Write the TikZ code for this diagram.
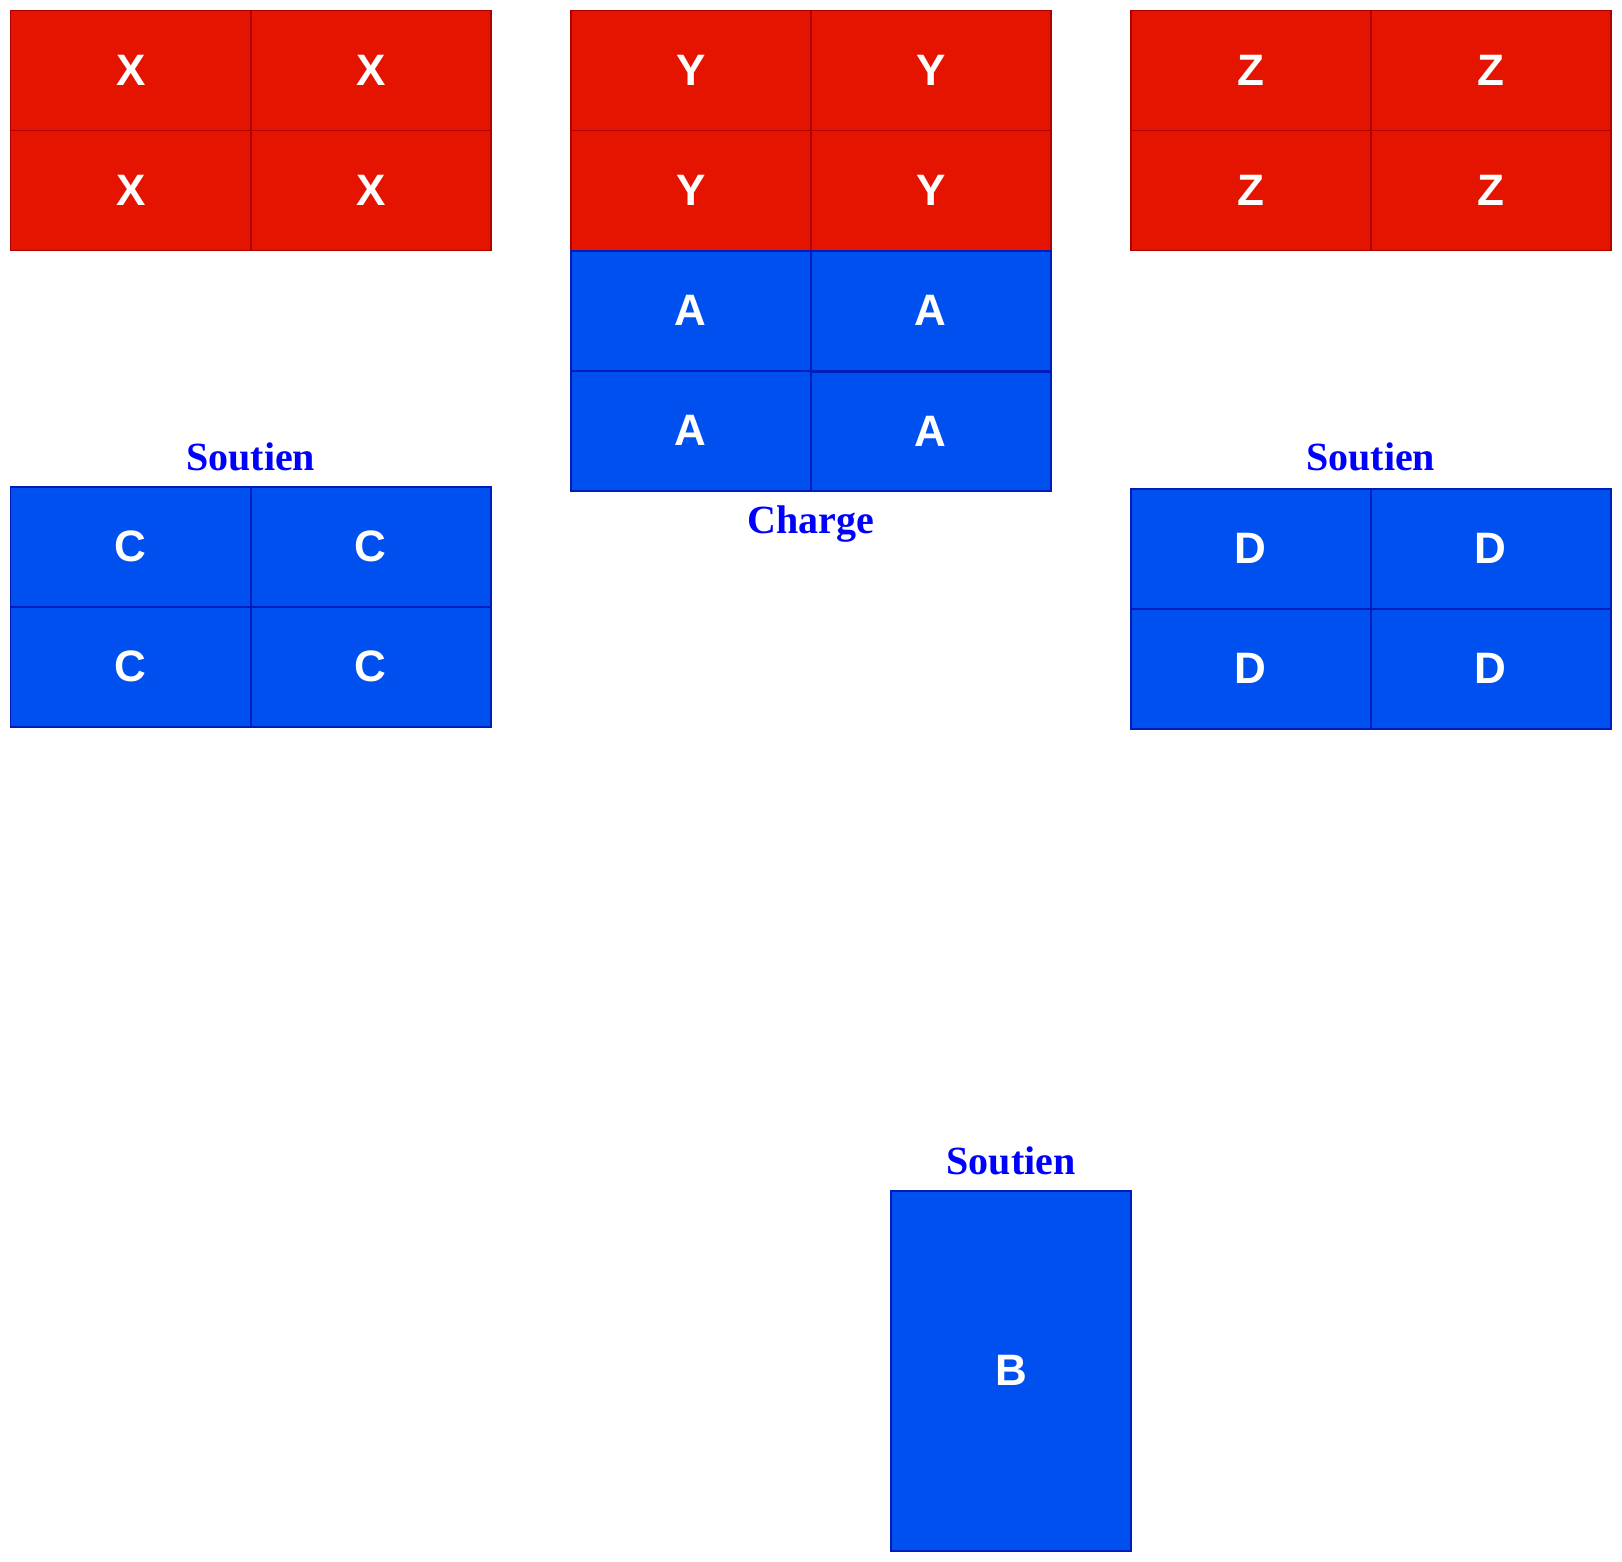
\documentclass[tikz,border=0pt]{standalone}
\usepackage{fontspec}
\setmainfont{Liberation Serif}
\newfontfamily\cellfont{Liberation Sans}
\definecolor{redfill}{HTML}{E51400}
\definecolor{redline}{HTML}{B20000}
\definecolor{bluefill}{HTML}{0050EF}
\definecolor{blueline}{HTML}{001DBC}
\definecolor{labelblue}{HTML}{0000FF}
\tikzset{
  cellbase/.style={rectangle, inner sep=0pt, outer sep=0pt, line width=1.5bp,
    minimum width=240bp, minimum height=120bp, text=white,
    font=\cellfont\bfseries\fontsize{44bp}{50bp}\selectfont},
  redcell/.style={cellbase, fill=redfill, draw=redline},
  bluecell/.style={cellbase, fill=bluefill, draw=blueline},
  grouplabel/.style={anchor=base, inner sep=0pt, text=labelblue,
    font=\bfseries\fontsize{40bp}{48bp}\selectfont}
}
\begin{document}
\begin{tikzpicture}[x=1bp,y=-1bp]
\useasboundingbox (0,0) rectangle (1622,1562);
% X group
\node[redcell] (x11) at (130.75,70.5) {X};
\node[redcell] (x12) at (370.75,70.5) {X};
\node[redcell] (x21) at (130.75,190.5) {X};
\node[redcell] (x22) at (370.75,190.5) {X};
% Y group
\node[redcell] (y11) at (690.75,70.5) {Y};
\node[redcell] (y12) at (930.75,70.5) {Y};
\node[redcell] (y21) at (690.75,190.5) {Y};
\node[redcell] (y22) at (930.75,190.5) {Y};
% A group
\node[bluecell] (a11) at (690.75,310.75) {A};
\node[bluecell] (a12) at (930.75,310.75) {A};
\node[bluecell] (a21) at (690.75,430.75) {A};
\node[bluecell, minimum height=118.5bp] (a22) at (930.75,431.5) {A};
\node[grouplabel] (charge) at (810.5,533) {Charge};
% Z group
\node[redcell] (z11) at (1251,70.5) {Z};
\node[redcell] (z12) at (1491,70.5) {Z};
\node[redcell] (z21) at (1251,190.5) {Z};
\node[redcell] (z22) at (1491,190.5) {Z};
% C group
\node[grouplabel] (soutienC) at (250.75,470) {Soutien};
\node[bluecell] (c11) at (130.75,546.75) {C};
\node[bluecell] (c12) at (370.75,546.75) {C};
\node[bluecell] (c21) at (130.75,666.75) {C};
\node[bluecell] (c22) at (370.75,666.75) {C};
% D group
\node[grouplabel] (soutienD) at (1370.75,470) {Soutien};
\node[bluecell] (d11) at (1250.75,548.75) {D};
\node[bluecell] (d12) at (1490.75,548.75) {D};
\node[bluecell] (d21) at (1250.75,668.75) {D};
\node[bluecell] (d22) at (1490.75,668.75) {D};
% B
\node[grouplabel] (soutienB) at (1011,1174) {Soutien};
\node[bluecell, minimum height=360bp] (b) at (1011,1370.75) {B};
\end{tikzpicture}
\end{document}
